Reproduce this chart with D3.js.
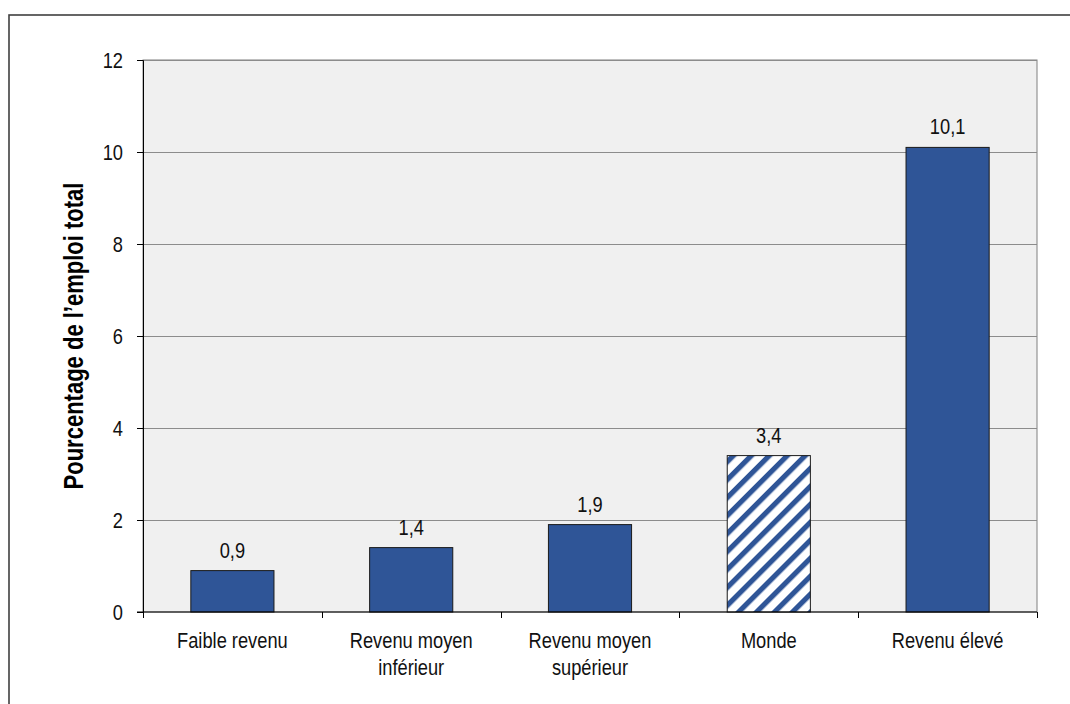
<!DOCTYPE html>
<html>
<head>
<meta charset="utf-8">
<script src="https://cdn.jsdelivr.net/npm/d3@7"></script>
<style>
  html, body { margin: 0; padding: 0; background: #fff; }
  svg { display: block; font-family: "Liberation Sans", Arial, sans-serif; }
</style>
</head>
<body>
<svg id="chart" width="1070" height="704"></svg>
<script>
// Employment share by income group (percent of total employment)
const categories = [
  ["Faible revenu"],
  ["Revenu moyen", "inférieur"],
  ["Revenu moyen", "supérieur"],
  ["Monde"],
  ["Revenu élevé"]
];
const values = [0.9, 1.4, 1.9, 3.4, 10.1];
const hatched = [false, false, false, true, false];
const yTicks = [0, 2, 4, 6, 8, 10, 12];
const yTitle = "Pourcentage de l’emploi total";

const svg = d3.select("#chart");
const W = 1070, H = 704;
const plot = { left: 143, top: 60, right: 1037, bottom: 612 };
const barColor = "#2f5597";
const FS = 22;          // label font size
const NARROW = 0.83;    // horizontal condensing of the narrow face

// condense text horizontally to mimic a narrow typeface
function narrow(sel, f) {
  sel.each(function () {
    const len = this.getComputedTextLength();
    d3.select(this).attr("textLength", len * f).attr("lengthAdjust", "spacingAndGlyphs");
  });
}

// hatch pattern for the world aggregate
const HP = 12.7;
const defs = svg.append("defs");
const pat = defs.append("pattern")
  .attr("id", "hatch")
  .attr("patternUnits", "userSpaceOnUse")
  .attr("width", HP).attr("height", HP)
  .attr("patternTransform", "rotate(45)");
pat.append("rect").attr("width", HP).attr("height", HP).attr("fill", "#ffffff");
pat.append("rect").attr("x", 0).attr("y", 0).attr("width", 5.2).attr("height", HP).attr("fill", barColor);

// outer frame
svg.append("rect")
  .attr("x", 9).attr("y", 15)
  .attr("width", W + 20).attr("height", H + 20)
  .attr("fill", "none").attr("stroke", "#404040").attr("stroke-width", 1.6);

const x = d3.scaleBand()
  .domain(d3.range(categories.length))
  .range([plot.left, plot.right])
  .paddingInner(0).paddingOuter(0);

const y = d3.scaleLinear().domain([0, 12]).range([plot.bottom, plot.top]);

// plot background
svg.append("rect")
  .attr("x", plot.left).attr("y", plot.top)
  .attr("width", plot.right - plot.left).attr("height", plot.bottom - plot.top)
  .attr("fill", "#f0f0f0")
  .attr("stroke", "#808080").attr("stroke-width", 1);

// horizontal gridlines
svg.append("g").selectAll("line")
  .data(yTicks.filter(d => d > 0))
  .join("line")
  .attr("x1", plot.left).attr("x2", plot.right)
  .attr("y1", d => Math.round(y(d)) + 0.5).attr("y2", d => Math.round(y(d)) + 0.5)
  .attr("stroke", "#8c8c8c").attr("stroke-width", 1);

// bars
const bw = x.bandwidth() * 0.465;
svg.append("g").selectAll("rect")
  .data(values)
  .join("rect")
  .attr("x", (d, i) => x(i) + (x.bandwidth() - bw) / 2)
  .attr("y", d => y(d))
  .attr("width", bw)
  .attr("height", d => y(0) - y(d))
  .attr("fill", (d, i) => hatched[i] ? "url(#hatch)" : barColor)
  .attr("stroke", "#1a1a1a").attr("stroke-width", 1);

// value labels
svg.append("g").selectAll("text")
  .data(values)
  .join("text")
  .attr("x", (d, i) => x(i) + x.bandwidth() / 2)
  .attr("y", d => y(d) - 13)
  .attr("text-anchor", "middle")
  .attr("font-size", FS)
  .attr("fill", "#111")
  .text(d => d3.format(".1f")(d).replace(".", ","))
  .call(narrow, NARROW);

// y axis
const yAxis = d3.axisLeft(y).tickValues(yTicks).tickSize(6).tickPadding(14).tickFormat(d3.format("d"));
const gy = svg.append("g").attr("transform", `translate(${plot.left},0)`).call(yAxis);
gy.select(".domain").attr("stroke", "#000");
gy.selectAll(".tick line").attr("stroke", "#000");
gy.selectAll(".tick text").attr("font-size", FS).attr("fill", "#111")
  .attr("font-family", "'Liberation Sans', Arial, sans-serif")
  .attr("dy", "0.36em")
  .call(narrow, NARROW);

// x axis baseline with boundary ticks
svg.append("line")
  .attr("x1", plot.left - 6).attr("x2", plot.right)
  .attr("y1", plot.bottom).attr("y2", plot.bottom)
  .attr("stroke", "#000").attr("stroke-width", 1);
svg.append("g").selectAll("line")
  .data(d3.range(categories.length + 1))
  .join("line")
  .attr("x1", i => Math.round(plot.left + i * x.step()) + 0.5)
  .attr("x2", i => Math.round(plot.left + i * x.step()) + 0.5)
  .attr("y1", plot.bottom).attr("y2", plot.bottom + 6)
  .attr("stroke", "#000").attr("stroke-width", 1);

// category labels, one text per line
const lines = [];
categories.forEach((c, i) => c.forEach((t, j) => lines.push({ i, j, t })));
svg.append("g").selectAll("text")
  .data(lines)
  .join("text")
  .attr("x", d => x(d.i) + x.bandwidth() / 2)
  .attr("y", d => 648 + d.j * 27)
  .attr("text-anchor", "middle")
  .attr("font-size", FS)
  .attr("fill", "#111")
  .text(d => d.t)
  .call(narrow, NARROW);

// y axis title
svg.append("text")
  .attr("transform", `translate(83,${(plot.top + plot.bottom) / 2}) rotate(-90)`)
  .attr("text-anchor", "middle")
  .attr("font-size", 27)
  .attr("font-weight", "bold")
  .attr("fill", "#000")
  .text(yTitle)
  .call(narrow, 0.815);
</script>
</body>
</html>
